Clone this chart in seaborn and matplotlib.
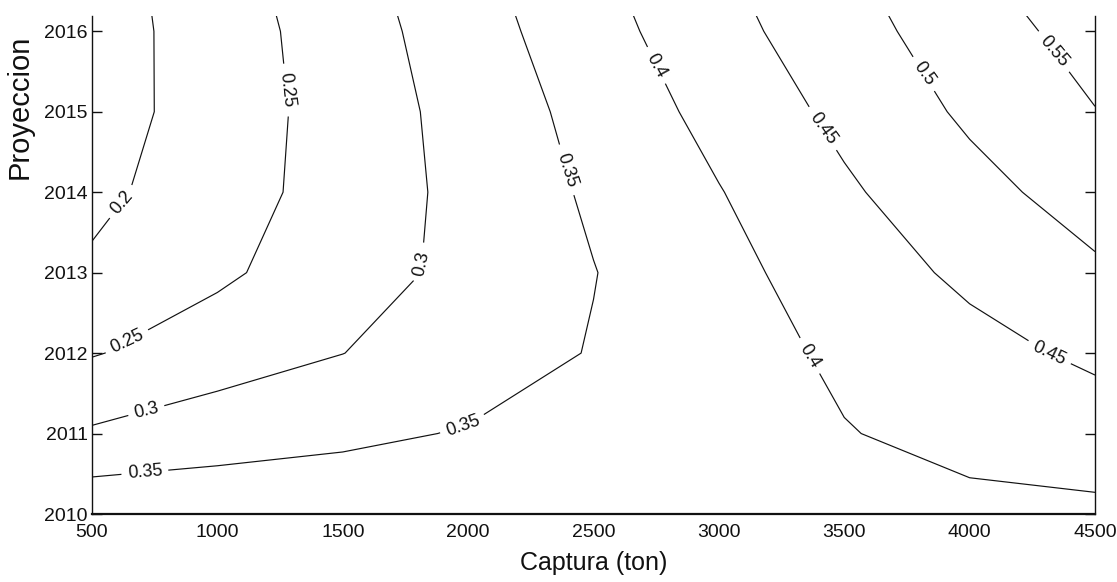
import numpy as np
import matplotlib
matplotlib.use("Agg")
import matplotlib.pyplot as plt
import seaborn as sns

# Grid: catch (tons) by projection year
captura = [500, 1000, 1500, 2000, 2500, 3000, 3500, 4000, 4500]
anios = [2010, 2011, 2012, 2013, 2014, 2015, 2016, 2017]

# Probability values on the grid, one row per projection year
z_2010 = [0.3875, 0.3849, 0.3813, 0.380, 0.380, 0.380, 0.383, 0.3895, 0.3906]
z_2011 = [0.306, 0.3267, 0.3407, 0.353, 0.3683, 0.3832, 0.398, 0.4128, 0.4255]
z_2012 = [0.247, 0.276, 0.2995, 0.3263, 0.3526, 0.3802, 0.408, 0.4345, 0.4592]
z_2013 = [0.2077, 0.2415, 0.278, 0.3132, 0.3487, 0.3852, 0.425, 0.4598, 0.4922]
z_2014 = [0.188, 0.228, 0.270, 0.3142, 0.357, 0.398, 0.443, 0.484, 0.522]
z_2015 = [0.177, 0.2233, 0.2703, 0.3183, 0.3667, 0.4155, 0.4619, 0.5083, 0.5486]
z_2016 = [0.176, 0.2246, 0.2751, 0.3276, 0.3808, 0.4327, 0.481, 0.526, 0.5695]
z_2017 = [0.1773, 0.2326, 0.2846, 0.3389, 0.3944, 0.4475, 0.4963, 0.5475, 0.599]

niveles = [0.2, 0.25, 0.3, 0.35, 0.4, 0.45, 0.5, 0.55]

xticks = [500, 1000, 1500, 2000, 2500, 3000, 3500, 4000, 4500]
yticks = [2010, 2011, 2012, 2013, 2014, 2015, 2016]

Z = np.array([z_2010, z_2011, z_2012, z_2013, z_2014, z_2015, z_2016, z_2017])

sns.set_theme(style="white")
plt.rcParams["font.family"] = ["Liberation Sans", "DejaVu Sans"]

fig = plt.figure(figsize=(11.17, 5.82), dpi=100)
ax = fig.add_axes([92 / 1117, 68 / 582, 1003 / 1117, 498 / 582])

cs = ax.contour(captura, anios, Z, levels=niveles, colors="#111111", linewidths=0.85)

# label placement near each contour segment
posiciones = [
    (624, 2013.86),
    (1277, 2015.27), (640, 2012.14),
    (1800, 2013.12), (719, 2011.25),
    (711, 2010.51), (1980, 2011.08), (2386, 2014.27),
    (2737, 2015.55), (3351, 2011.94),
    (3390, 2014.73), (4307, 2011.91),
    (3801, 2015.43),
    (4320, 2015.70),
]
ax.clabel(cs, fmt="%g", fontsize=13, inline=True, inline_spacing=6,
          manual=posiciones, colors="#111111")

ax.set_xlim(500, 4500)
ax.set_ylim(2010, 2016.19)
ax.set_xticks(xticks)
ax.set_yticks(yticks)
ax.set_xticklabels([str(v) for v in xticks])
ax.set_yticklabels([str(v) for v in yticks])

ax.tick_params(axis="x", direction="in", length=11, width=1.0, pad=7,
               labelsize=14, colors="#111111", top=False)
ax.tick_params(axis="y", direction="in", length=7, width=1.0, pad=3,
               labelsize=14, colors="#111111", left=True, right=True)

sns.despine(ax=ax, top=True, right=False, left=False, bottom=False)
for side in ["left", "right", "bottom"]:
    ax.spines[side].set_color("#111111")
    ax.spines[side].set_linewidth(1.0)
ax.spines["bottom"].set_linewidth(1.6)

ax.set_xlabel("Captura (ton)", fontsize=18, color="#111111", va="center")
ax.xaxis.set_label_coords(0.5, -0.098)
ax.set_ylabel("Proyeccion", fontsize=21, color="#111111", va="center")
ax.yaxis.set_label_coords(-0.072, 0.817)

ax.set_facecolor("white")
fig.patch.set_facecolor("white")
fig.savefig("out.png", dpi=100, facecolor="white")
